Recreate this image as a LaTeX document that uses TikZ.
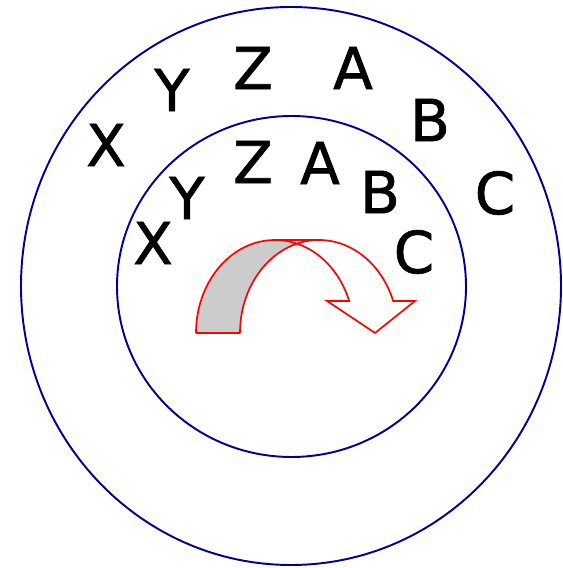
\documentclass[tikz,border=0pt]{standalone}
\usepackage{fontspec}
\setmainfont{DejaVu Sans}
\newfontfamily\wheelfont[FakeBold=1.2]{DejaVu Sans}
\usepackage{tikz}
\usetikzlibrary{positioning,calc}
\usepackage{xcolor}
\definecolor{ringblue}{RGB}{0,0,150}
\definecolor{backgray}{RGB}{204,204,204}

\begin{document}
\begin{tikzpicture}[x=0.02cm,y=0.02cm,every node/.style={font=\wheelfont\fontsize{33}{33}\selectfont,inner sep=0pt},
  ring/.style={ringblue,line width=1.1pt},shiftline/.style={red,line width=0.95pt,line join=miter}]
\useasboundingbox (0,0) rectangle (563,568);
% the two wheels
\draw[ring] (291,282) ellipse [x radius=270,y radius=279];
\draw[ring] (291.5,281.5) ellipse [x radius=174.5,y radius=170.5];
% outer alphabet
\node (outX) at (106,423) {X};
\node (outY) at (172,478) {Y};
\node (outZ) at (253,500) {Z};
\node (outA) at (353,500) {A};
\node (outB) at (430,448) {B};
\node (outC) at (495,375) {C};
% inner alphabet
\node (inX) at (153,325) {X};
\node (inY) at (187,370) {Y};
\node (inZ) at (253,406) {Z};
\node (inA) at (320,405) {A};
\node (inB) at (380,376) {B};
\node (inC) at (414,316) {C};
% shift arrow
\coordinate (back) at (196,235);
\coordinate (front) at (240,235);
\fill[backgray] (back) arc[start angle=180,end angle=73.83,x radius=79,y radius=93]
  arc[start angle=106.17,end angle=180,x radius=79,y radius=93] -- cycle;
\draw[shiftline] (back) arc[start angle=180,end angle=90,x radius=79,y radius=93] coordinate (topL)
  -- ++(44,0) coordinate (topR) arc[start angle=90,end angle=20.13,x radius=79,y radius=93] coordinate (wingR)
  -- ++(21.8,0) -- (375,235) coordinate (tip) -- (327,267) -- ++(22.2,0) coordinate (wingL)
  arc[start angle=20.13,end angle=90,x radius=79,y radius=93];
\draw[shiftline] (front) arc[start angle=180,end angle=90,x radius=79,y radius=93];
\draw[shiftline] (back) -- (front);
\end{tikzpicture}
\end{document}
